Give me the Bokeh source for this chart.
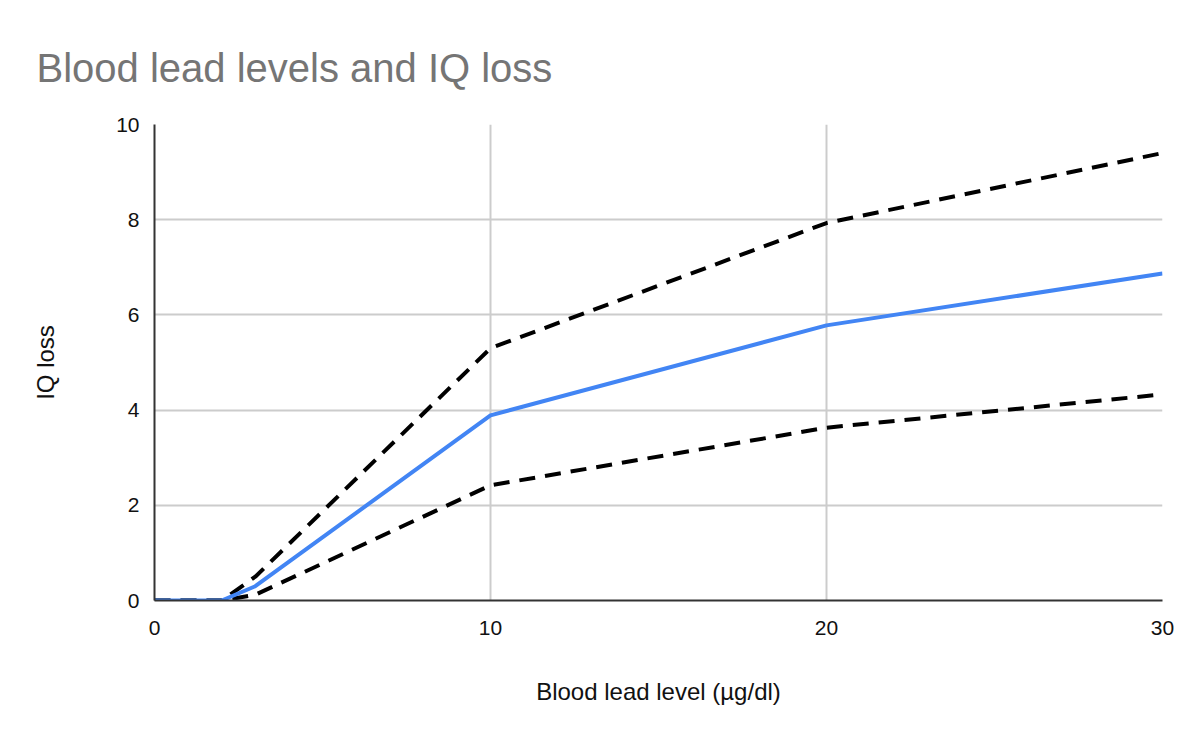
from bokeh.plotting import figure
from bokeh.models import Range1d, FixedTicker, Title
from bokeh.embed import file_html
from bokeh.resources import INLINE

# Data
lead_level = [0, 2, 3, 10, 20, 30]
iq_loss_mid = [0, 0, 0.3, 3.89, 5.78, 6.87]
iq_loss_upper = [0, 0, 0.5, 5.3, 7.93, 9.4]
iq_loss_lower = [0, 0, 0.12, 2.42, 3.63, 4.33]
x_ticks = [0, 10, 20, 30]
y_ticks = [0, 2, 4, 6, 8, 10]

FONT = "Liberation Sans"

p = figure(width=1184, height=726, output_backend="svg", toolbar_location=None,
           x_range=Range1d(0, 30), y_range=Range1d(0, 10),
           min_border_left=154, min_border_right=22, min_border_top=124, min_border_bottom=126)
p.title = None

t = Title(text="Blood lead levels and IQ loss", text_font=FONT, text_font_size="40px",
          text_font_style="normal", text_color="#757575", align="left", offset=-118, standoff=70)
p.add_layout(t, "above")

p.outline_line_color = None
p.background_fill_color = "white"

p.line(lead_level, iq_loss_upper, line_color="black", line_width=4, line_dash="16 10")
p.line(lead_level, iq_loss_lower, line_color="black", line_width=4, line_dash="16 10")
p.line(lead_level, iq_loss_mid, line_color="#4285F4", line_width=4)

for ax in (p.xaxis[0], p.yaxis[0]):
    ax.axis_line_color = "#333333"
    ax.axis_line_width = 2
    ax.major_tick_line_color = None
    ax.minor_tick_line_color = None
    ax.major_label_text_font = FONT
    ax.major_label_text_font_size = "21px"
    ax.major_label_text_color = "#111111"
    ax.axis_label_text_font = FONT
    ax.axis_label_text_font_size = "24px"
    ax.axis_label_text_font_style = "normal"
    ax.axis_label_text_color = "#111111"

p.xaxis.ticker = FixedTicker(ticks=x_ticks)
p.yaxis.ticker = FixedTicker(ticks=y_ticks)
p.xaxis.axis_label = "Blood lead level (µg/dl)"
p.yaxis.axis_label = "IQ loss"
p.xaxis.major_label_standoff = 14
p.xaxis.axis_label_standoff = 40
p.yaxis.major_label_standoff = 9
p.yaxis.axis_label_standoff = 54

p.xgrid.grid_line_color = "#cccccc"
p.ygrid.grid_line_color = "#cccccc"
p.xgrid.grid_line_width = 2
p.ygrid.grid_line_width = 2
p.xgrid.ticker = FixedTicker(ticks=x_ticks)
p.ygrid.ticker = FixedTicker(ticks=y_ticks)

open("out.html", "w").write(file_html(p, INLINE))
